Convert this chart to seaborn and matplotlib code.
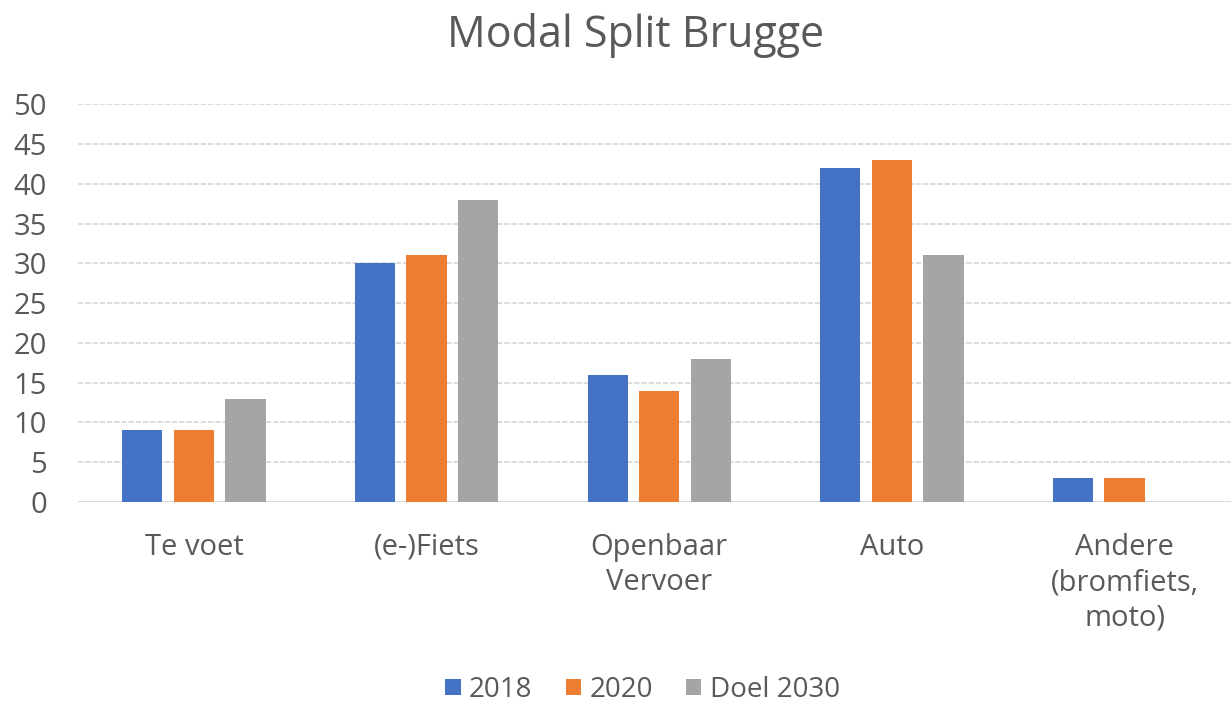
import pandas as pd
import matplotlib.pyplot as plt
import seaborn as sns

categories = ["Te voet", "(e-)Fiets", "Openbaar\nVervoer", "Auto", "Andere\n(bromfiets,\nmoto)"]
series = ["2018", "2020", "Doel 2030"]
v2018 = [9, 30, 16, 42, 3]
v2020 = [9, 31, 14, 43, 3]
v2030 = [13, 38, 18, 31, 0]
colors = ["#4472C4", "#ED7D31", "#A5A5A5"]

df = pd.DataFrame({
    "categorie": categories * 3,
    "jaar": [s for s in series for _ in categories],
    "waarde": v2018 + v2020 + v2030,
})

sns.set_theme(style="white")
plt.rcParams['font.family'] = ['Open Sans', 'DejaVu Sans']

fig = plt.figure(figsize=(12.31, 7.04), dpi=100)
ax = fig.add_axes([0.063, 0.287, 0.945, 0.565])

sns.barplot(data=df, x="categorie", y="waarde", hue="jaar", palette=colors,
            saturation=1, width=0.665, gap=0.22, linewidth=0, ax=ax, legend=True)

ax.set_ylim(0, 50)
ax.set_yticks(range(0, 51, 5))
ax.yaxis.grid(True, color="#D9D9D9", linewidth=1.3, linestyle=(0, (3, 1)))
ax.set_axisbelow(True)
for s in ax.spines.values():
    s.set_visible(False)
ax.axhline(0, color="#D9D9D9", linewidth=1.3, zorder=0)
ax.tick_params(axis="y", length=0, pad=22, labelsize=21, labelcolor="#595959")
ax.tick_params(axis="x", length=0, pad=22, labelsize=21, labelcolor="#595959")
for lbl in ax.get_xticklabels():
    lbl.set_linespacing(1.3)
ax.set_xlabel("")
ax.set_ylabel("")

fig.suptitle("Modal Split Brugge", x=0.516, y=0.982, fontsize=31, color="#595959")

handles, labels = ax.get_legend_handles_labels()
ax.get_legend().remove()
fig.legend(handles, labels, loc="center", bbox_to_anchor=(0.522, 0.02), ncol=3,
           frameon=False, fontsize=20, handlelength=0.55, handleheight=0.55,
           handletextpad=0.3, columnspacing=1.2, labelcolor="#595959")

fig.savefig("out.png", dpi=100)
